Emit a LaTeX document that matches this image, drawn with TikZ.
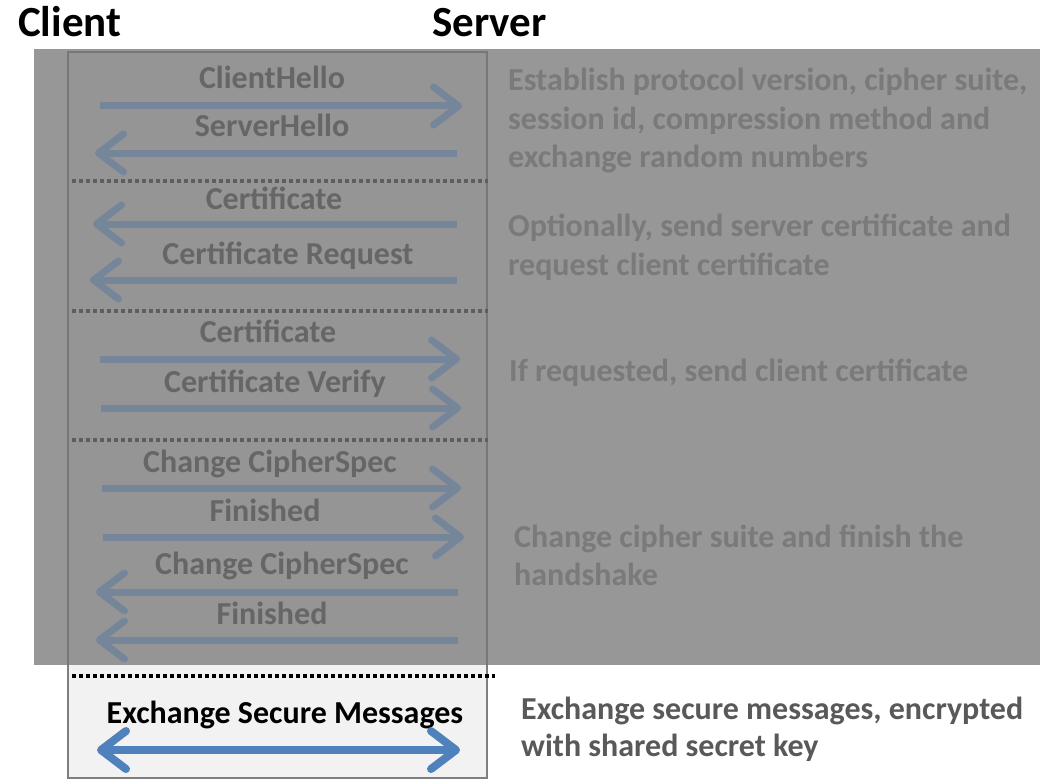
\documentclass[tikz,border=0pt]{standalone}
\usepackage{fontspec}
\setmainfont{Carlito}
\usetikzlibrary{arrows.meta}
\definecolor{ovl}{HTML}{979797}
\definecolor{boxfillg}{HTML}{959595}
\definecolor{boxlineg}{HTML}{777777}
\definecolor{boxfillw}{HTML}{F2F2F2}
\definecolor{boxlinew}{HTML}{7F7F7F}
\definecolor{lblg}{HTML}{666666}
\definecolor{txtg}{HTML}{7A7A7A}
\definecolor{arrg}{HTML}{75869A}
\definecolor{dotg}{HTML}{5E5E5E}
\definecolor{arrb}{HTML}{4F81BD}
\definecolor{txtw}{HTML}{595959}
\tikzset{
  hdr/.style={inner sep=0pt, font=\fontsize{43}{50}\selectfont\bfseries, text=black},
  lbl/.style={inner sep=0pt, font=\fontsize{32}{38}\selectfont\bfseries, text=lblg},
  rtxt/.style={inner sep=0pt, anchor=base west, font=\fontsize{32}{38}\selectfont\bfseries, text=txtg},
  msg/.style={line width=7pt, draw=arrg, -{Straight Barb[length=25pt,width=38pt,round]}},
  sep/.style={line width=3.5pt, draw=dotg, dash pattern=on 3.5pt off 3.5pt},
}
\begin{document}
\begin{tikzpicture}[x=1pt,y=-1pt]
\useasboundingbox (0,0) rectangle (1051,781);
\fill[white] (0,0) rectangle (1051,781);
% lower (un-shaded) part of the inner box
\fill[boxfillw] (68,600) rectangle (487,778);
\draw[boxlinew, line width=1.5pt] (68,600) -- (68,778) -- (487,778) -- (487,600);
% shaded overlay
\fill[ovl] (34,49) rectangle (1040,665);
\fill[boxfillg] (68,52) rectangle (487,665);
\draw[boxlineg, line width=1.5pt] (68,665) -- (68,52) -- (487,52) -- (487,665);

% headers
\node[hdr, anchor=base west] (client) at (18,37) {Client};
\node[hdr, anchor=base west] (server) at (432,37) {Server};

% message labels
\node[lbl, anchor=base] (m1) at (272,89) {ClientHello};
\node[lbl, anchor=base] (m2) at (272,136) {ServerHello};
\node[lbl, anchor=base] (m3) at (274,209) {Certificate};
\node[lbl, anchor=base] (m4) at (288,264) {Certificate Request};
\node[lbl, anchor=base] (m5) at (268,342) {Certificate};
\node[lbl, anchor=base] (m6) at (275,392) {Certificate Verify};
\node[lbl, anchor=base] (m7) at (270,472) {Change CipherSpec};
\node[lbl, anchor=base] (m8) at (265,521) {Finished};
\node[lbl, anchor=base] (m9) at (282,574) {Change CipherSpec};
\node[lbl, anchor=base] (m10) at (272,624) {Finished};

% arrow end points (client side c, server side s)
\coordinate (c1) at (100,106);  \coordinate (s1) at (462,106);
\coordinate (c2) at (95,153);   \coordinate (s2) at (457,153);
\coordinate (c3) at (93,224);   \coordinate (s3) at (457,224);
\coordinate (c4) at (90,280);   \coordinate (s4) at (457,280);
\coordinate (c5) at (100,359);  \coordinate (s5) at (460,359);
\coordinate (c6) at (101,408);  \coordinate (s6) at (461,408);
\coordinate (c7) at (102,488);  \coordinate (s7) at (461,488);
\coordinate (c8) at (103,537);  \coordinate (s8) at (464,537);
\coordinate (c9) at (96,592);   \coordinate (s9) at (458,592);
\coordinate (c10) at (96,640);  \coordinate (s10) at (458,640);

\draw[msg] (c1) -- (s1);
\draw[msg] (s2) -- (c2);
\draw[msg] (s3) -- (c3);
\draw[msg] (s4) -- (c4);
\draw[msg] (c5) -- (s5);
\draw[msg] (c6) -- (s6);
\draw[msg] (c7) -- (s7);
\draw[msg] (c8) -- (s8);
\draw[msg] (s9) -- (c9);
\draw[msg] (s10) -- (c10);

% dotted separators
\coordinate (d1a) at (72,181); \coordinate (d1b) at (488,181);
\coordinate (d2a) at (72,311); \coordinate (d2b) at (488,311);
\coordinate (d3a) at (72,440); \coordinate (d3b) at (488,440);
\coordinate (d4a) at (72,676); \coordinate (d4b) at (495,676);
\draw[sep] (d1a) -- (d1b);
\draw[sep] (d2a) -- (d2b);
\draw[sep] (d3a) -- (d3b);
\draw[sep, draw=black] (d4a) -- (d4b);

% right-hand descriptions
\node[rtxt] (r1a) at (508,91) {Establish protocol version, cipher suite,};
\node[rtxt] (r1b) at (508,129) {session id, compression method and};
\node[rtxt] (r1c) at (508,167) {exchange random numbers};
\node[rtxt] (r2a) at (508,236) {Optionally, send server certificate and};
\node[rtxt] (r2b) at (508,275) {request client certificate};
\node[rtxt] (r3a) at (509,381) {If requested, send client certificate};
\node[rtxt] (r4a) at (514,547) {Change cipher suite and finish the};
\node[rtxt] (r4b) at (514,585) {handshake};

% secure messages part
\node[lbl, anchor=base, text=black] (m11) at (285,723) {Exchange Secure Messages};
\coordinate (c11) at (97,750); \coordinate (s11) at (460,750);
\draw[line width=8pt, draw=arrb, {Straight Barb[length=25pt,width=38pt,round]}-{Straight Barb[length=25pt,width=38pt,round]}] (c11) -- (s11);
\node[rtxt, text=txtw] (r5a) at (521,719) {Exchange secure messages, encrypted};
\node[rtxt, text=txtw] (r5b) at (521,756) {with shared secret key};
\end{tikzpicture}
\end{document}
